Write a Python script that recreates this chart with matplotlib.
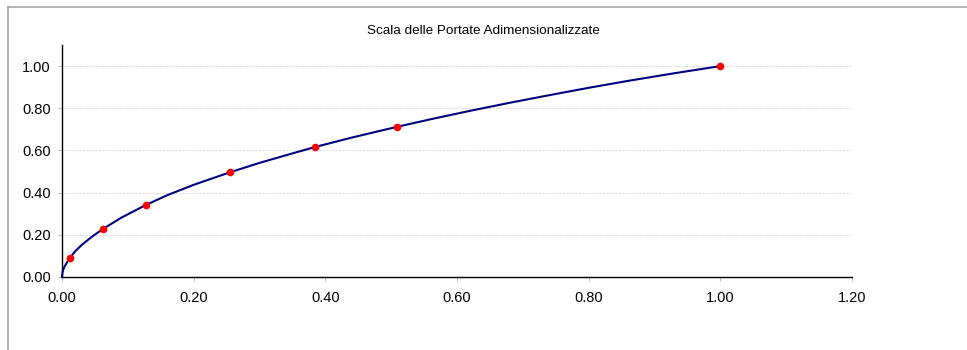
import matplotlib
matplotlib.use("Agg")
import matplotlib.pyplot as plt
from matplotlib.lines import Line2D

plt.rcParams['font.family'] = ['Liberation Sans', 'DejaVu Sans']

title = "Scala delle Portate Adimensionalizzate"

# curve
curve_x = [0.0, 0.0005, 0.001, 0.002, 0.004, 0.007, 0.0122, 0.02, 0.03, 0.045,
           0.0629, 0.09, 0.127, 0.16, 0.2, 0.2547, 0.3, 0.35, 0.384, 0.44,
           0.509, 0.56, 0.62, 0.68, 0.74, 0.8, 0.86, 0.93, 1.0]
curve_y = [0.0, 0.017, 0.025, 0.036, 0.05, 0.066, 0.091, 0.122, 0.152, 0.19,
           0.229, 0.281, 0.341, 0.388, 0.437, 0.496, 0.541, 0.586, 0.616, 0.661,
           0.712, 0.748, 0.788, 0.826, 0.862, 0.897, 0.93, 0.966, 1.0]

# red sample points
pts_x = [0.0122, 0.0629, 0.127, 0.2547, 0.384, 0.509, 1.0]
pts_y = [0.091, 0.229, 0.341, 0.496, 0.616, 0.712, 1.0]

x_ticks = [0.0, 0.2, 0.4, 0.6, 0.8, 1.0, 1.2]
y_ticks = [0.0, 0.2, 0.4, 0.6, 0.8, 1.0]

W, H = 967, 350
fig = plt.figure(figsize=(W / 100, H / 100), dpi=100)
fig.patch.set_facecolor('white')

# outer chart frame (left and top edges visible)
fig.add_artist(Line2D([7.5 / W, 7.5 / W], [0, 1 - 6.5 / H], transform=fig.transFigure,
                      color='#a6a6a6', lw=1.2))
fig.add_artist(Line2D([7.5 / W, 1], [1 - 6.5 / H, 1 - 6.5 / H], transform=fig.transFigure,
                      color='#a6a6a6', lw=1.2))

ax = fig.add_axes([62 / W, 1 - 277 / H, (852 - 62) / W, (277 - 45) / H])
ax.set_xlim(0, 1.2)
ax.set_ylim(0, 1.1)

ax.plot(curve_x, curve_y, color='#000080', lw=1.5, zorder=3, clip_on=False,
        solid_joinstyle='round')
ax.plot(pts_x, pts_y, linestyle='none', marker='o', markersize=5.5,
        color='#ff0000', markeredgewidth=0, zorder=4, clip_on=False)

ax.set_xticks(x_ticks)
ax.set_yticks(y_ticks)
ax.set_xticklabels([f"{v:.2f}" for v in x_ticks])
ax.set_yticklabels([f"{v:.2f}" for v in y_ticks])

for s in ['top', 'right']:
    ax.spines[s].set_visible(False)
for s in ['left', 'bottom']:
    ax.spines[s].set_color('black')
    ax.spines[s].set_linewidth(1.0)

ax.tick_params(axis='both', direction='out', length=3, width=0.8, color='#bfbfbf',
               labelsize=10.5, labelcolor='black')
ax.tick_params(axis='y', pad=5)
ax.tick_params(axis='x', pad=7)

ax.yaxis.grid(True, color='#dedede', lw=0.8, linestyle=(0, (2, 1)))
ax.set_axisbelow(True)

fig.text(483 / W, 1 - 31 / H, title, ha='center', va='center', fontsize=9.7, color='black')

fig.savefig('out.png', dpi=100)
